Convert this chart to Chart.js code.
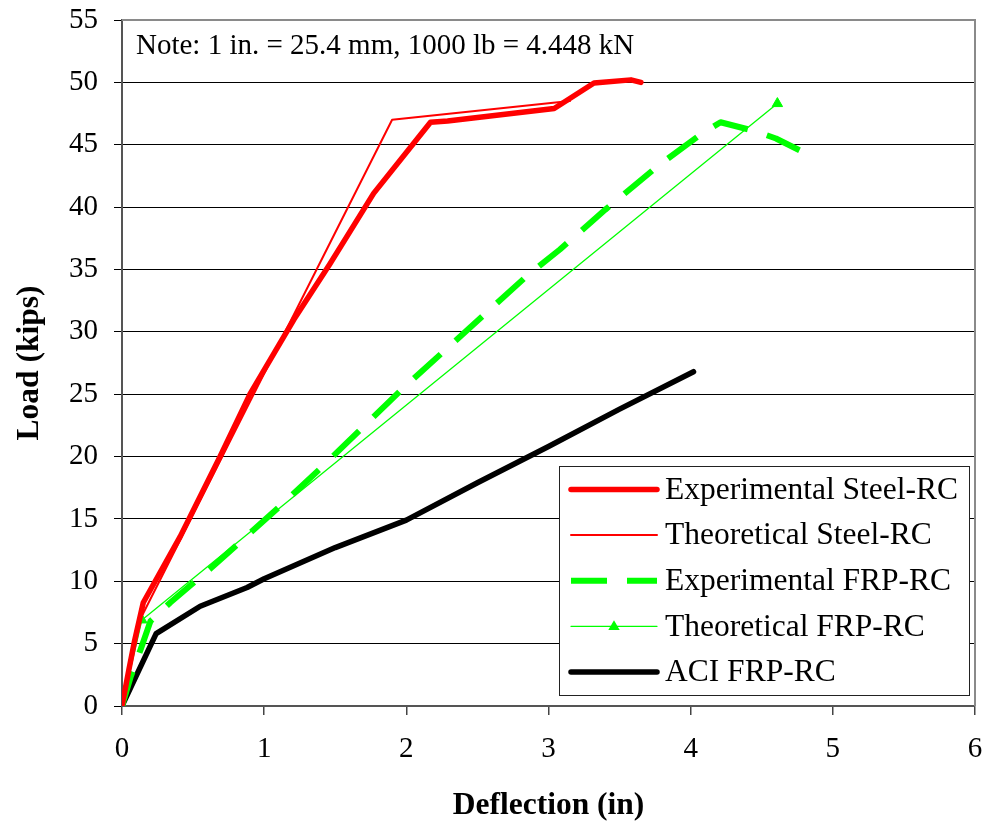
<!DOCTYPE html>
<html>
<head>
<meta charset="utf-8">
<script src="https://cdn.jsdelivr.net/npm/chart.js@4/dist/chart.umd.min.js"></script>
<style>
  html, body { margin: 0; padding: 0; background: #fff; }
  #wrap { width: 988px; height: 825px; position: relative; }
</style>
</head>
<body>
<div id="wrap"><canvas id="c" width="988" height="825"></canvas></div>
<script>
// ---- Data ----
const seriesNames = ["Experimental Steel-RC", "Theoretical Steel-RC", "Experimental FRP-RC", "Theoretical FRP-RC", "ACI FRP-RC"];

const expSteelX = [0, 0.05, 0.09, 0.15, 0.41, 0.69, 0.90, 1.21, 1.46, 1.77, 2.17, 2.29, 3.04, 3.32, 3.58, 3.65];
const expSteelY = [0, 3.0, 5.3, 8.3, 13.6, 20.0, 25.0, 31.0, 35.4, 41.1, 46.8, 46.9, 47.9, 49.95, 50.2, 50.0];

const theoSteelX = [0, 0.13, 1.90, 3.15];
const theoSteelY = [0, 7.0, 47.0, 48.5];

const expFrpX = [0, 0.06, 0.13, 0.20, 0.34, 0.63, 1.11, 1.41, 1.69, 1.97, 2.26, 2.56, 2.85, 3.08, 3.40, 3.77, 4.08, 4.21, 4.45, 4.60, 4.81];
const expFrpY = [0, 2.3, 4.5, 6.8, 8.3, 11.1, 16.0, 19.2, 22.3, 25.4, 28.4, 31.5, 34.5, 36.6, 39.8, 43.3, 45.9, 46.8, 46.1, 45.5, 44.3];

const theoFrpX = [0, 0.14, 4.61];
const theoFrpY = [0, 6.9, 48.3];

const aciX = [0, 0.24, 0.55, 0.88, 1.0, 1.5, 2.0, 2.5, 3.0, 3.5, 4.02];
const aciY = [0, 5.8, 8.0, 9.5, 10.2, 12.7, 14.9, 17.9, 20.8, 23.8, 26.8];

const xTicks = [0, 1, 2, 3, 4, 5, 6];
const yTicks = [0, 5, 10, 15, 20, 25, 30, 35, 40, 45, 50, 55];

const xTitle = "Deflection (in)";
const yTitle = "Load (kips)";
const noteText = "Note: 1 in. = 25.4 mm, 1000 lb = 4.448 kN";

// ---- helpers ----
function pts(xs, ys) { return xs.map((x, i) => ({ x: x, y: ys[i] })); }

const SERIF = "'Liberation Serif', 'Times New Roman', serif";

const datasets = [
  { label: seriesNames[0], data: pts(expSteelX, expSteelY), borderColor: '#FF0000', backgroundColor: '#FF0000',
    borderWidth: 5.5, pointRadius: 0, order: 1 },
  { label: seriesNames[1], data: pts(theoSteelX, theoSteelY), borderColor: '#FF0000', backgroundColor: '#FF0000',
    borderWidth: 2, pointRadius: 0, order: 2 },
  { label: seriesNames[2], data: pts(expFrpX, expFrpY), borderColor: '#00FF00', backgroundColor: '#00FF00',
    borderWidth: 6, borderDash: [36, 20], borderCapStyle: 'butt', pointRadius: 0, order: 3 },
  { label: seriesNames[3], data: pts(theoFrpX, theoFrpY), borderColor: '#00FF00', backgroundColor: '#00FF00',
    borderWidth: 1.3, pointRadius: 6, pointStyle: 'triangle', pointBorderWidth: 1, order: 4 },
  { label: seriesNames[4], data: pts(aciX, aciY), borderColor: '#000000', backgroundColor: '#000000',
    borderWidth: 5.5, pointRadius: 0, order: 5 }
];
datasets.forEach(d => { d.tension = 0; d.fill = false; if (!d.borderCapStyle) d.borderCapStyle = 'round'; d.borderJoinStyle = 'round'; });

// Plot frame (top & right) + note
const framePlugin = {
  id: 'frame',
  beforeDatasetsDraw(chart) {
    const { ctx, chartArea: a } = chart;
    ctx.save();
    ctx.strokeStyle = '#8a8a8a';
    ctx.lineWidth = 2;
    ctx.beginPath();
    ctx.moveTo(a.left, a.top);
    ctx.lineTo(a.right, a.top);
    ctx.lineTo(a.right, a.bottom);
    ctx.stroke();
    ctx.restore();
  },
  afterDraw(chart) {
    const { ctx, chartArea: a } = chart;
    ctx.save();
    ctx.font = '29px ' + SERIF;
    ctx.fillStyle = '#000';
    ctx.textBaseline = 'middle';
    ctx.textAlign = 'left';
    ctx.fillText(noteText, a.left + 14, a.top + 26);
    ctx.restore();
  }
};

// Legend box drawn inside the plot area
const legendPlugin = {
  id: 'boxLegend',
  afterDraw(chart) {
    const { ctx } = chart;
    const bx = 559, by = 466, bw = 410, bh = 229;
    ctx.save();
    ctx.fillStyle = '#fff';
    ctx.fillRect(bx, by, bw, bh);
    ctx.strokeStyle = '#222';
    ctx.lineWidth = 1;
    ctx.strokeRect(bx + 0.5, by + 0.5, bw, bh);
    const rowH = 45.6;
    chart.data.datasets.forEach((d, i) => {
      const cy = by + 23.5 + i * rowH;
      const x0 = 571, x1 = 657;
      ctx.save();
      ctx.strokeStyle = d.borderColor;
      ctx.lineWidth = d.borderWidth;
      ctx.lineCap = d.borderDash ? 'butt' : 'round';
      ctx.setLineDash(d.borderDash || []);
      ctx.beginPath();
      ctx.moveTo(x0, cy);
      ctx.lineTo(x1, cy);
      ctx.stroke();
      ctx.restore();
      if (d.pointStyle === 'triangle') {
        ctx.save();
        ctx.fillStyle = d.backgroundColor;
        ctx.beginPath();
        const mx = (x0 + x1) / 2, r = 6;
        ctx.moveTo(mx, cy - r);
        ctx.lineTo(mx + r * 0.95, cy + r * 0.6);
        ctx.lineTo(mx - r * 0.95, cy + r * 0.6);
        ctx.closePath();
        ctx.fill();
        ctx.restore();
      }
      ctx.fillStyle = '#000';
      ctx.font = '31.5px ' + SERIF;
      ctx.textBaseline = 'middle';
      ctx.textAlign = 'left';
      ctx.fillText(d.label, 665, cy + 1);
    });
    ctx.restore();
  }
};

new Chart(document.getElementById('c'), {
  type: 'line',
  data: { datasets: datasets },
  options: {
    responsive: false,
    animation: false,
    devicePixelRatio: 1,
    layout: { padding: { top: 20, right: 13, left: 0, bottom: 0 } },
    plugins: { legend: { display: false }, tooltip: { enabled: false } },
    scales: {
      x: {
        type: 'linear',
        min: xTicks[0], max: xTicks[xTicks.length - 1],
        afterBuildTicks(scale) { scale.ticks = xTicks.map(v => ({ value: v })); },
        afterFit(scale) { scale.height = 119; scale.paddingLeft = 0; scale.paddingRight = 0; },
        grid: { drawOnChartArea: false, drawTicks: true, tickLength: 9, color: '#444', lineWidth: 1.5 },
        border: { display: true, color: '#555', width: 2 },
        ticks: { color: '#000', font: { family: SERIF, size: 29 }, padding: 17, maxRotation: 0 },
        title: { display: true, text: xTitle, color: '#000', font: { family: SERIF, size: 31.5, weight: 'bold', lineHeight: 1.2 }, padding: { top: 0, bottom: 0 } }
      },
      y: {
        type: 'linear',
        min: yTicks[0], max: yTicks[yTicks.length - 1],
        afterBuildTicks(scale) { scale.ticks = yTicks.map(v => ({ value: v })); },
        afterFit(scale) { scale.width = 122; scale.paddingTop = 0; scale.paddingBottom = 0; },
        grid: { drawOnChartArea: true, drawTicks: true, tickLength: 8, color: '#000', lineWidth: 1 },
        border: { display: true, color: '#555', width: 2 },
        ticks: { color: '#000', font: { family: SERIF, size: 29 }, padding: 16 },
        title: { display: true, text: yTitle, color: '#000', font: { family: SERIF, size: 31.5, weight: 'bold', lineHeight: 1.2 }, padding: { top: 11, bottom: 0 } }
      }
    }
  },
  plugins: [framePlugin, legendPlugin]
});
</script>
</body>
</html>
